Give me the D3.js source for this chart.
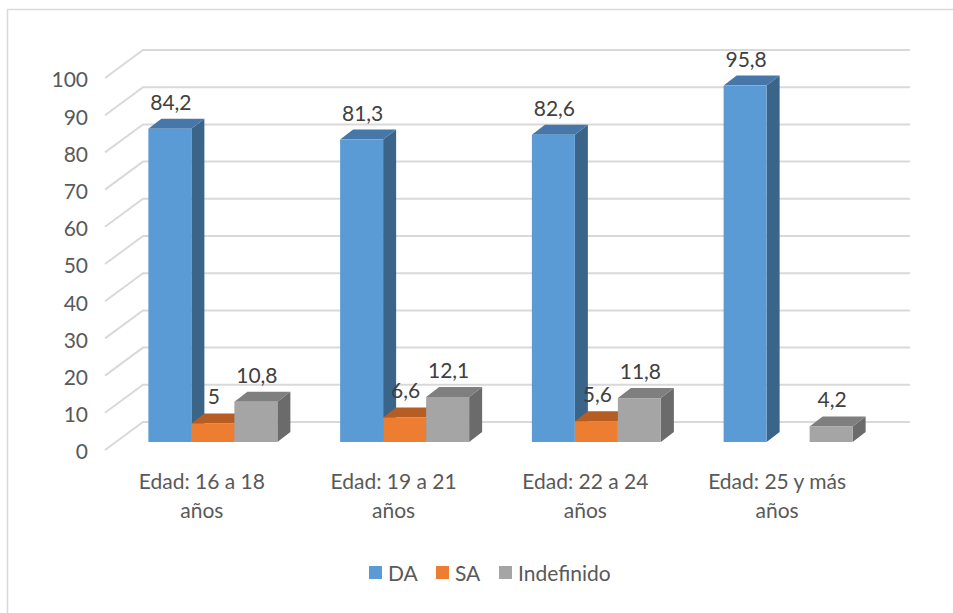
<!DOCTYPE html>
<html>
<head>
<meta charset="utf-8">
<script src="https://cdn.jsdelivr.net/npm/d3@7/dist/d3.min.js"></script>
<style>
  html, body { margin: 0; padding: 0; background: #ffffff; }
  svg { display: block; }
  text { font-family: Lato, "Open Sans", sans-serif; }
</style>
</head>
<body>
<svg id="chart" width="953" height="613"></svg>
<script>
// Data
const categories = [["Edad: 16 a 18", "años"], ["Edad: 19 a 21", "años"], ["Edad: 22 a 24", "años"], ["Edad: 25 y más", "años"]];
const seriesNames = ["DA", "SA", "Indefinido"];
const daValues = [84.2, 81.3, 82.6, 95.8];
const saValues = [5, 6.6, 5.6, 0];
const indefValues = [10.8, 12.1, 11.8, 4.2];
const yTicks = [0, 10, 20, 30, 40, 50, 60, 70, 80, 90, 100];

const seriesValues = [daValues, saValues, indefValues];
const colors = {
  DA: { front: "#5b9bd5", top: "#4677a8", side: "#3b6489" },
  SA: { front: "#ed7d31", top: "#b55d22", side: "#a4531f" },
  Indefinido: { front: "#a5a5a5", top: "#7f7f7f", side: "#6b6b6b" }
};

const svg = d3.select("#chart");
const W = 953, H = 613;
const fontSize = 21;

// Chart frame
svg.append("rect")
  .attr("x", 7.5).attr("y", 9.5)
  .attr("width", W + 20).attr("height", H + 20)
  .attr("fill", "#fff").attr("stroke", "#d9d9d9").attr("stroke-width", 1.5);

// 3D geometry: front plane baseline, wall depth vector, bar depth placement
const frontBase = 450;
const wallDepth = [38, -28];
const barOffset = [11, -8];
const barDepth = [13, -10];

const yH = d3.scaleLinear().domain([0, 100]).range([0, 372]);
const xGroup = d3.scaleBand().domain(d3.range(categories.length)).range([106, 873]).padding(0);
const groupWidth = 129;
const xBar = d3.scaleBand().domain(seriesNames).range([0, groupWidth]).padding(0);

// Gridlines: diagonal on the side wall then horizontal on the back wall
const grid = svg.append("g");
yTicks.forEach(t => {
  const yf = frontBase - yH(t);
  const yb = yf + wallDepth[1];
  grid.append("polyline")
    .attr("points", `${105},${yf} ${105 + wallDepth[0]},${yb} ${910},${yb}`)
    .attr("fill", "none").attr("stroke", "#d9d9d9").attr("stroke-width", 2);
});

// Y axis labels
svg.append("g").selectAll("text").data(yTicks).join("text")
  .attr("x", 88).attr("y", t => frontBase - yH(t) + 2)
  .attr("dy", "0.35em")
  .attr("text-anchor", "end")
  .attr("font-size", fontSize).attr("fill", "#595959")
  .text(t => t);

// Bars
const fmt = v => String(v).replace(".", ",");
const bars = svg.append("g");
const labels = svg.append("g");
categories.forEach((cat, gi) => {
  const gx = xGroup(gi) + xGroup.bandwidth() / 2 - groupWidth / 2 + barOffset[0];
  const base = frontBase + barOffset[1];
  seriesNames.forEach((s, si) => {
    const v = seriesValues[si][gi];
    if (!(v > 0)) return;
    const x0 = gx + xBar(s);
    const x1 = x0 + xBar.bandwidth();
    const yTop = base - yH(v);
    const [dx, dy] = barDepth;
    const c = colors[s];
    // side face
    bars.append("polygon")
      .attr("points", `${x1},${base} ${x1 + dx},${base + dy} ${x1 + dx},${yTop + dy} ${x1},${yTop}`)
      .attr("fill", c.side);
    // top face
    bars.append("polygon")
      .attr("points", `${x0},${yTop} ${x1},${yTop} ${x1 + dx},${yTop + dy} ${x0 + dx},${yTop + dy}`)
      .attr("fill", c.top);
    // front face
    bars.append("rect")
      .attr("x", x0).attr("y", yTop)
      .attr("width", x1 - x0).attr("height", base - yTop)
      .attr("fill", c.front);
    labels.append("text")
      .attr("x", (x0 + x1) / 2 + 1).attr("y", yTop - 19)
      .attr("text-anchor", "middle")
      .attr("font-size", fontSize).attr("fill", "#404040")
      .text(fmt(v));
  });
});

// Category labels
const catG = svg.append("g");
categories.forEach((lines, gi) => {
  const cx = xGroup(gi) + xGroup.bandwidth() / 2;
  const t = catG.append("text")
    .attr("text-anchor", "middle")
    .attr("font-size", fontSize).attr("fill", "#595959");
  lines.forEach((ln, li) => {
    t.append("tspan").attr("x", cx).attr("y", 489 + li * 29).text(ln);
  });
});

// Legend
const legendX = [369, 436, 499];
const legend = svg.append("g");
seriesNames.forEach((s, i) => {
  legend.append("rect")
    .attr("x", legendX[i]).attr("y", 566)
    .attr("width", 13).attr("height", 13)
    .attr("fill", colors[s].front);
  legend.append("text")
    .attr("x", legendX[i] + 19).attr("y", 581)
    .attr("font-size", fontSize).attr("fill", "#595959")
    .text(s);
});
</script>
</body>
</html>
